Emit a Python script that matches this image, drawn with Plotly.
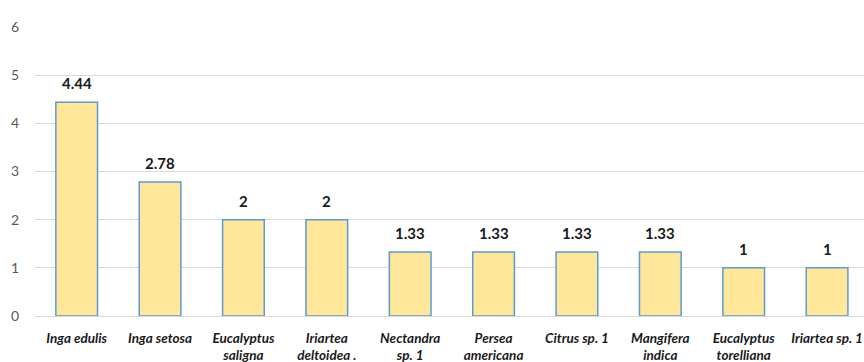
import plotly.graph_objects as go

# Species (tick labels, wrapped onto two lines where needed)
species = [
    "Inga edulis",
    "Inga setosa",
    "Eucalyptus<br>saligna",
    "Iriartea<br>deltoidea .",
    "Nectandra<br>sp. 1",
    "Persea<br>americana",
    "Citrus sp. 1",
    "Mangifera<br>indica",
    "Eucalyptus<br>torelliana",
    "Iriartea sp. 1",
]
values = [4.44, 2.78, 2, 2, 1.33, 1.33, 1.33, 1.33, 1, 1]
value_labels = ["4.44", "2.78", "2", "2", "1.33", "1.33", "1.33", "1.33", "1", "1"]

positions = list(range(len(species)))
FONT = "Lato, 'Open Sans', sans-serif"

fig = go.Figure(
    go.Bar(
        x=positions,
        y=values,
        width=0.5,
        marker=dict(color="#FFE699", line=dict(color="#5B9BD5", width=1.5)),
        hoverinfo="skip",
    )
)

# Value labels above each bar
for xi, yi, lab in zip(positions, values, value_labels):
    fig.add_annotation(
        x=xi, y=yi, text=f"<b>{lab}</b>", showarrow=False,
        yanchor="bottom", yshift=8,
        font=dict(family=FONT, size=15, color="#1a1a1a"),
    )

fig.update_layout(
    width=864, height=362,
    margin=dict(l=35, r=0, t=27, b=46),
    paper_bgcolor="white", plot_bgcolor="white",
    showlegend=False,
    font=dict(family=FONT),
)

fig.update_xaxes(
    tickmode="array",
    tickvals=positions,
    ticktext=[f"<b><i>{s}</i></b>" for s in species],
    range=[-0.5, 9.443],
    tickfont=dict(family=FONT, size=13.5, color="#1a1a1a"),
    showgrid=False, showline=False, zeroline=False, ticks="",
    ticklabelstandoff=12,
    automargin=False,
)
fig.update_yaxes(
    range=[0, 6], dtick=1, tick0=0,
    showgrid=True, gridcolor="#d9d9d9", gridwidth=1,
    zeroline=True, zerolinecolor="#d9d9d9", zerolinewidth=1,
    showline=False, ticks="",
    tickfont=dict(family=FONT, size=14, color="#595959"),
    ticklabelstandoff=15,
    automargin=False,
)

fig.write_html("out.html")
